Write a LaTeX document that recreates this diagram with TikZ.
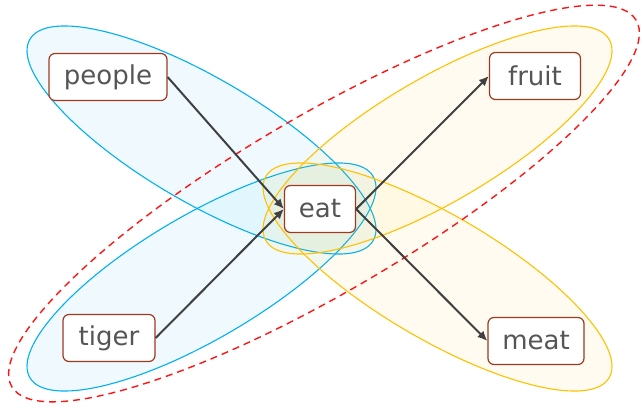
\documentclass[tikz,border=0pt]{standalone}
\usepackage{fontspec}
\setmainfont{DejaVu Sans}
\usetikzlibrary{arrows.meta}
\definecolor{grpblue}{RGB}{0,176,240}
\definecolor{grpyellow}{RGB}{255,192,0}
\definecolor{boxborder}{RGB}{158,58,30}
\definecolor{txtgray}{RGB}{85,85,85}
\definecolor{arrowgray}{RGB}{64,64,64}
\definecolor{dashred}{RGB}{255,20,20}
\tikzset{
  wordbox/.style={draw=boxborder, line width=1.2pt, fill=white, rounded corners=6pt,
    text=txtgray, font=\fontsize{26}{30}\selectfont, minimum height=47pt, inner xsep=14pt, inner ysep=0pt},
  bluegroup/.style={draw=grpblue, line width=1.1pt, fill=grpblue, fill opacity=0.06},
  yellowgroup/.style={draw=grpyellow, line width=1.1pt, fill=grpyellow, fill opacity=0.06},
  redgroup/.style={draw=dashred, line width=1.4pt, dash pattern=on 7pt off 5pt},
  link/.style={draw=arrowgray, line width=2pt, -{Latex[length=10pt,width=9pt]}}
}
\begin{document}
\begin{tikzpicture}[x=1pt,y=-1pt]
\useasboundingbox (0,0) rectangle (643,410);
% group ellipses
\draw[bluegroup, shift={(201.5,140)}, rotate=-30.4] (0,0) ellipse [x radius=199pt, y radius=62pt];
\draw[bluegroup, shift={(201.5,277)}, rotate=30.4] (0,0) ellipse [x radius=199pt, y radius=62pt];
\draw[yellowgroup, shift={(437.5,140)}, rotate=30.4] (0,0) ellipse [x radius=199pt, y radius=62pt];
\draw[yellowgroup, shift={(437.5,277)}, rotate=-30.4] (0,0) ellipse [x radius=199pt, y radius=62pt];
\draw[redgroup, shift={(324,203.5)}, rotate=30.4] (0,0) ellipse [x radius=362pt, y radius=88pt];
% nodes
\node[wordbox, minimum width=118pt] (people) at (108,77) {people};
\node[wordbox, minimum width=71pt] (eat) at (320,209) {eat};
\node[wordbox, minimum width=91pt] (fruit) at (535,76) {fruit};
\node[wordbox, minimum width=92pt] (tiger) at (109,338) {tiger};
\node[wordbox, minimum width=96pt] (meat) at (536,341) {meat};
% connectors
\draw[link] (people.east) -- (eat.west);
\draw[link] (tiger.east) -- (eat.west);
\draw[link] (eat.east) -- (fruit.west);
\draw[link] (eat.east) -- (meat.west);
\end{tikzpicture}
\end{document}
